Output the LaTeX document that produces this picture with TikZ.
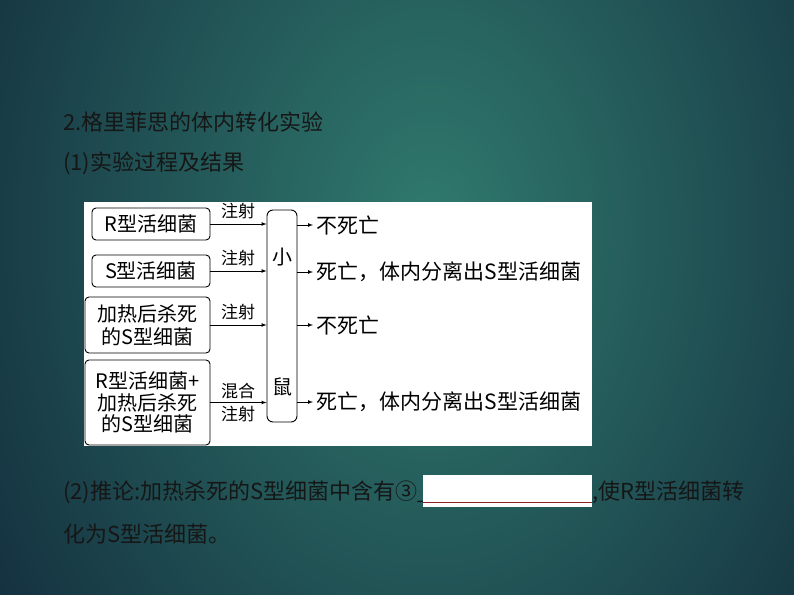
\documentclass[tikz,border=0pt]{standalone}
\usepackage{fontspec}
\setmainfont{Noto Sans CJK SC}
\usetikzlibrary{shapes,arrows,positioning}
\definecolor{bgin}{HTML}{307A6E}
\definecolor{bgout}{HTML}{14303F}
\definecolor{inktext}{HTML}{161616}
\definecolor{blankline}{HTML}{8B2323}
\tikzset{
  bact/.style={draw, rectangle, rounded corners=4pt, line width=0.9pt, align=center, inner sep=0pt, font=\fontsize{20}{23}\selectfont},
  tag/.style={inner sep=0pt, font=\fontsize{17}{20}\selectfont},
  result/.style={anchor=west, font=\fontsize{21}{24}\selectfont},
  body/.style={anchor=west, inner sep=0pt, text=inktext, font=\fontsize{22}{26}\selectfont},
}

\begin{document}
\begin{tikzpicture}[x=1pt, y=-1pt]
    \useasboundingbox (0,0) rectangle (794,594);
    \begin{scope}
        \clip (0,0) rectangle (794,594);
        \shade[inner color=bgin, outer color=bgout] (-90,-470) rectangle (950,930);
    \end{scope}

    \node[body] (title) at (63,122) {2.格里菲思的体内转化实验};
    \node[body] (step1) at (63,163) {(1)实验过程及结果};

    % diagram
    \fill[white] (84,202) rectangle (592,446);
    \node[bact, minimum width=118pt, minimum height=32pt] (rlive) at (151,224) {R型活细菌};
    \node[bact, minimum width=118pt, minimum height=32pt] (slive) at (151,271) {S型活细菌};
    \node[bact, minimum width=125pt, minimum height=56pt] (sdead) at (147.5,325) {加热后杀死\\的S型细菌};
    \node[bact, minimum width=125pt, minimum height=85pt] (mix) at (147.5,402.5) {R型活细菌+\\[-1.5pt]加热后杀死\\[-1.5pt]的S型细菌};

    \node[draw, rectangle, rounded corners=6pt, line width=0.9pt, minimum width=30pt, minimum height=212pt] (mouse) at (282,316) {};
    \node[font=\fontsize{20}{23}\selectfont] (mouse1) at (282,257) {小};
    \node[font=\fontsize{20}{23}\selectfont] (mouse2) at (282,387) {鼠};

    \node[tag] (tag1) at (238,211) {注射};
    \node[tag] (tag2) at (238,258) {注射};
    \node[tag] (tag3) at (238,312) {注射};
    \node[tag] (tag4) at (238,391) {混合};
    \node[tag] (tag5) at (238,414) {注射};

    \draw[-latex, line width=0.7pt] (rlive.east) -- (mouse.west |- rlive.east);
    \draw[-latex, line width=0.7pt] (slive.east) -- (mouse.west |- slive.east);
    \draw[-latex, line width=0.7pt] (sdead.east) -- (mouse.west |- sdead.east);
    \draw[-latex, line width=0.7pt] (mix.east) -- (mouse.west |- mix.east);

    \node[result] (out1) at (313,225) {不死亡};
    \node[result] (out2) at (313,272) {死亡，体内分离出S型活细菌};
    \node[result] (out3) at (313,325) {不死亡};
    \node[result] (out4) at (313,402) {死亡，体内分离出S型活细菌};

    \draw[-latex, line width=0.7pt] (mouse.east |- out1.west) -- (out1.west);
    \draw[-latex, line width=0.7pt] (mouse.east |- out2.west) -- (out2.west);
    \draw[-latex, line width=0.7pt] (mouse.east |- out3.west) -- (out3.west);
    \draw[-latex, line width=0.7pt] (mouse.east |- out4.west) -- (out4.west);

    % inference
    \node[body] (infer) at (63,492) {(2)推论:加热杀死的S型细菌中含有③\_};
    \fill[white] (423,475) rectangle (592,507);
    \draw[blankline, line width=1pt] (423,502) -- (592,502);
    \node[body] (infer2) at (592,492) {,使R型活细菌转};
    \node[body] (infer3) at (63,534) {化为S型活细菌。};
\end{tikzpicture}
\end{document}
